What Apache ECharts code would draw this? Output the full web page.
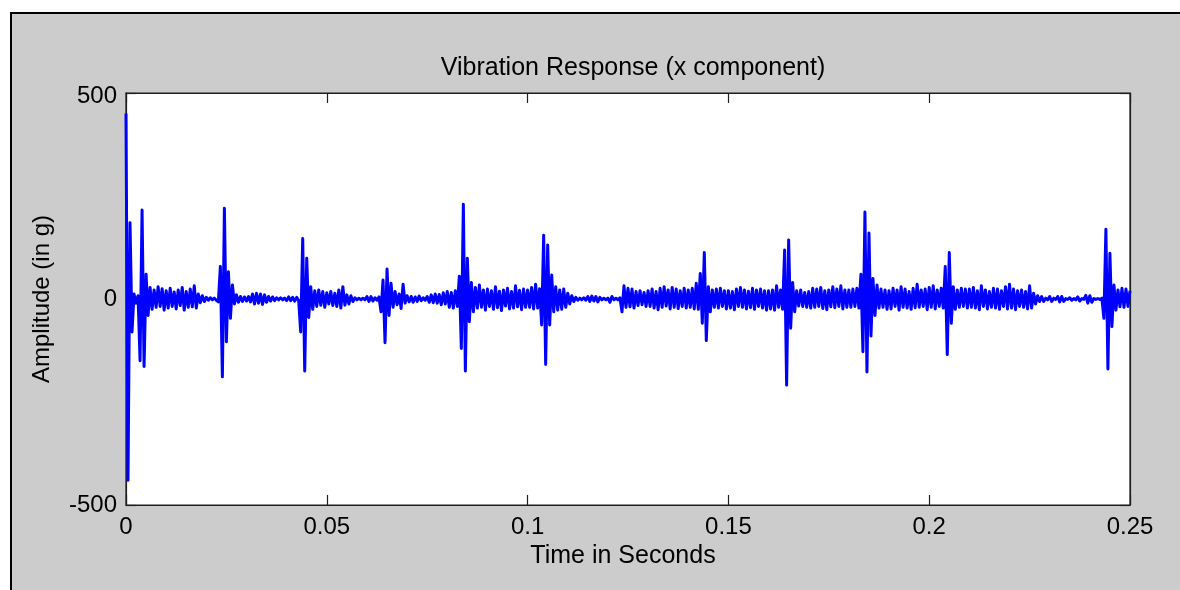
<!DOCTYPE html>
<html>
<head>
<meta charset="utf-8">
<title>Vibration Response</title>
<script src="https://cdn.jsdelivr.net/npm/echarts@6/dist/echarts.min.js"></script>
<style>
  html, body { margin: 0; padding: 0; background: #fff; }
  #chart { width: 1180px; height: 590px; }
</style>
</head>
<body>
<div id="chart"></div>
<script>
// sample spacing of the recording (seconds)
const timeStep = 0.0005;

// amplitude (g), 100 samples per 0.05 s window
const amp000to005 = [
  450,-440,185,-80,12,-10,8,-150,216,-164,60,-40,28,-25,22,-20,30,-18,25,-27,
  20,-22,26,-18,17,-24,22,-16,28,-27,18,-20,24,-19,32,-22,12,-9,8,-6,
  4,-3,3,-2,2,-3,-7,79,-189,220,-104,66,-47,34,-12,10,-8,6,-6,5,
  -5,6,-7,12,-12,14,-10,12,-13,10,-8,6,-5,5,-4,3,-2,3,-2,2,
  -4,5,-4,4,-5,4,-4,-80,147,-175,99,-45,30,-25,20,-18,22,-15,18,-20
];
const amp005to010 = [
  15,-12,18,-16,14,-18,22,-22,30,-15,10,-12,8,-6,3,-2,2,-2,2,-2,
  6,-6,6,-5,3,-3,5,-31,46,-106,73,-40,38,-20,18,-14,12,-23,36,-10,
  8,-7,6,-8,5,-6,7,-4,3,-3,6,-8,10,-9,12,-10,11,-14,15,-12,
  18,-20,16,-22,20,-18,55,-120,230,-175,99,-55,40,-31,28,-22,34,-20,22,-27,
  24,-18,20,-25,30,-21,19,-28,22,-17,26,-24,18,-22,32,-19,21,-26,24,-20
];
const amp010to015 = [
  22,-20,28,-24,36,-22,25,-63,155,-159,131,-63,58,-31,30,-27,22,-25,24,-20,
  14,-12,8,-6,4,-3,2,-2,3,-3,6,-6,7,-5,6,-7,4,-2,2,-2,
  2,-8,6,-2,2,-2,3,-31,32,-20,26,-19,24,-22,18,-16,20,-14,16,-18,
  20,-18,24,-22,18,-26,26,-20,30,-17,22,-24,28,-20,24,-23,20,-18,26,-22,
  22,-20,26,-24,38,-25,62,-59,113,-101,30,-31,22,-20,24,-22,26,-18,20,-24
];
const amp015to020 = [
  20,-22,18,-26,24,-18,28,-20,22,-24,19,-21,26,-25,22,-18,24,-22,20,-27,
  20,-24,22,-27,32,-20,22,-25,119,-209,143,-71,40,-31,20,-17,22,-18,16,-20,
  18,-22,26,-20,24,-18,28,-23,20,-26,22,-19,30,-21,24,-18,32,-24,22,-20,
  22,-20,24,-18,26,-22,60,-128,211,-177,160,-90,50,-40,34,-22,24,-20,22,-25,
  20,-24,26,-18,22,-27,30,-20,24,-22,18,-25,26,-21,36,-20,22,-18,24,-26
];
const amp020to025 = [
  28,-20,32,-24,22,-18,26,-22,79,-135,113,-59,30,-25,22,-20,26,-18,24,-22,
  24,-20,28,-22,20,-26,32,-18,22,-24,18,-20,26,-22,24,-25,20,-18,30,-24,
  36,-22,24,-26,20,-18,22,-20,18,-24,32,-22,14,-12,8,-6,6,-6,2,-2,
  6,-6,2,-1,6,-7,6,-6,1,-1,3,-3,1,-2,5,-5,1,-1,9,-10,
  8,-8,1,-1,1,-1,2,-47,169,-170,111,-67,34,-27,22,-19,26,-20,24,-18,
  20
];

const xTicks = [0, 0.05, 0.1, 0.15, 0.2, 0.25];
const yTicks = [-500, 0, 500];

const amplitude = [].concat(amp000to005, amp005to010, amp010to015, amp015to020, amp020to025);
const signal = amplitude.map((v, i) => [i * timeStep, v]);

const FONT = '"Liberation Sans", Arial, sans-serif';
const AXIS = '#1e1e1e';

var myChart = echarts.init(document.getElementById('chart'));
myChart.setOption({
  animation: false,
  backgroundColor: '#fff',
  graphic: [{
    type: 'rect',
    z: -10,
    shape: {x: 11, y: 13, width: 1200, height: 600},
    style: {fill: '#cccccc', stroke: '#000', lineWidth: 2}
  }],
  title: {
    text: 'Vibration Response (x component)',
    left: 628,
    textAlign: 'center',
    top: 51,
    textStyle: {fontFamily: FONT, fontSize: 25, fontWeight: 'normal', color: '#000'}
  },
  grid: {
    left: 126, top: 93, width: 1004, height: 412,
    show: true, backgroundColor: '#fff', borderColor: AXIS, borderWidth: 1.2
  },
  xAxis: [{
    type: 'value',
    min: xTicks[0], max: xTicks[xTicks.length - 1], interval: 0.05,
    name: 'Time in Seconds', nameLocation: 'middle', nameGap: 39,
    nameTextStyle: {fontFamily: FONT, fontSize: 25, color: '#000', padding: [0, 10, 0, 0]},
    axisLine: {show: true, onZero: false, lineStyle: {color: AXIS, width: 1.2}},
    axisTick: {show: true, inside: true, length: 10, lineStyle: {color: AXIS, width: 1.2}},
    axisLabel: {fontFamily: FONT, fontSize: 24, color: '#000', margin: 10},
    splitLine: {show: false}
  }, {
    type: 'value', position: 'top',
    min: xTicks[0], max: xTicks[xTicks.length - 1], interval: 0.05,
    axisLine: {show: true, onZero: false, lineStyle: {color: AXIS, width: 1.2}},
    axisTick: {show: true, inside: true, length: 10, lineStyle: {color: AXIS, width: 1.2}},
    axisLabel: {show: false},
    splitLine: {show: false}
  }],
  yAxis: [{
    type: 'value',
    min: yTicks[0], max: yTicks[yTicks.length - 1], interval: 500,
    name: 'Amplitude (in g)', nameLocation: 'middle', nameGap: 72,
    nameTextStyle: {fontFamily: FONT, fontSize: 24, color: '#000'},
    axisLine: {show: true, onZero: false, lineStyle: {color: AXIS, width: 1.2}},
    axisTick: {show: true, inside: true, length: 10, lineStyle: {color: AXIS, width: 1.2}},
    axisLabel: {
      fontFamily: FONT, fontSize: 24, color: '#000', margin: 9,
      formatter: v => v === yTicks[yTicks.length - 1] ? '{top|' + v + '}' : String(v),
      rich: {top: {fontFamily: FONT, fontSize: 24, color: '#000', padding: [7, 0, 0, 0]}}
    },
    splitLine: {show: false}
  }, {
    type: 'value', position: 'right',
    min: yTicks[0], max: yTicks[yTicks.length - 1], interval: 500,
    axisLine: {show: true, onZero: false, lineStyle: {color: AXIS, width: 1.2}},
    axisTick: {show: true, inside: true, length: 10, lineStyle: {color: AXIS, width: 1.2}},
    axisLabel: {show: false},
    splitLine: {show: false}
  }],
  series: [{
    name: 'x component',
    type: 'line',
    data: signal,
    showSymbol: false,
    sampling: null,
    lineStyle: {color: '#0000ff', width: 3, join: 'round'},
    areaStyle: {color: '#0000ff', opacity: 1, origin: 0},
    z: 3
  }]
});
</script>
</body>
</html>
